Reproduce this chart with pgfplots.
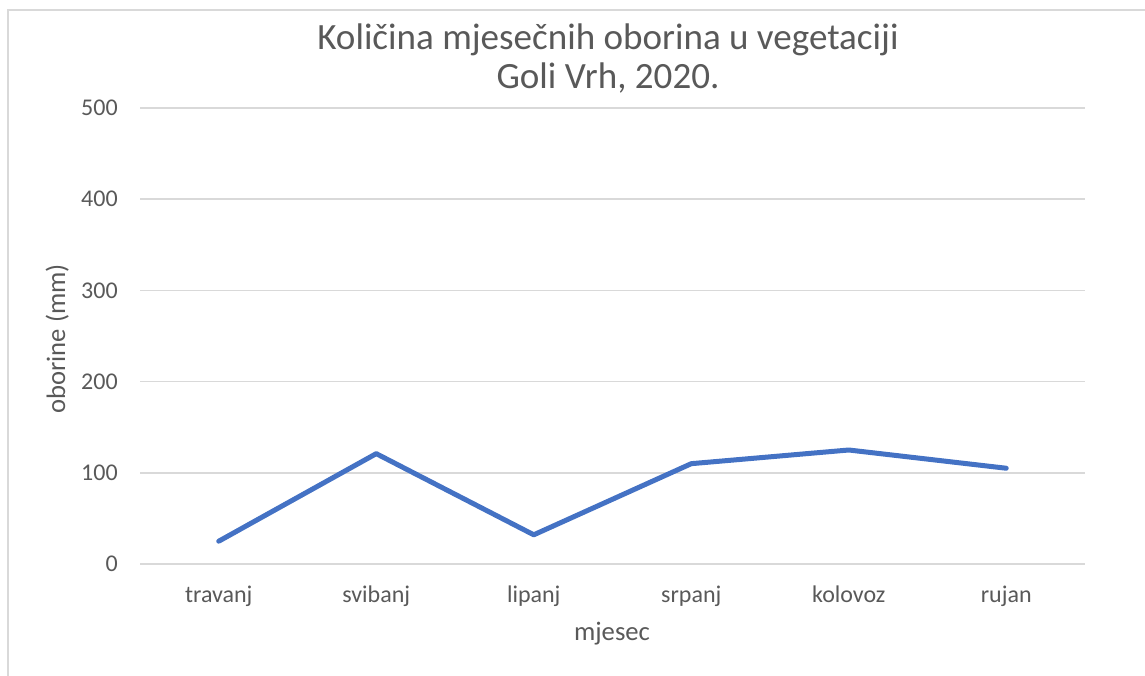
\documentclass[border=0pt]{standalone}
\usepackage{pgfplots}
\pgfplotsset{compat=1.18}
\usepackage{fontspec}
\setmainfont{Carlito}
\definecolor{txt}{HTML}{595959}
\definecolor{grd}{HTML}{D9D9D9}
\definecolor{ln}{HTML}{4472C4}
\begin{document}
\begin{tikzpicture}[x=0.75pt,y=0.75pt]
\useasboundingbox (0,0) rectangle (1145,675);
\draw[grd, line width=1.5pt] (8,-20) -- (8,665) -- (1170,665);
\begin{axis}[
  at={(105pt,83.25pt)}, anchor=south west,
  width=708.75pt, height=342pt, scale only axis,
  xmin=-0.5, xmax=5.5, ymin=0, ymax=500,
  ytick={0,100,200,300,400,500},
  xtick={0,1,2,3,4,5},
  xticklabels={travanj,svibanj,lipanj,srpanj,kolovoz,rujan},
  axis line style={draw=none},
  major tick length=0pt,
  ymajorgrids,
  grid style={grd, line width=1.1pt},
  /pgf/number format/assume math mode=true,
  tick label style={font=\fontsize{18}{21}\selectfont, text=txt},
  yticklabel style={anchor=east, inner sep=0pt, xshift=-16.5pt},
  xticklabel style={anchor=base, inner sep=0pt, yshift=-28.5pt},
  clip=false,
]
\addplot[ln, line width=3.75pt, line cap=round, line join=round] coordinates {
  (0,25) (1,121) (2,32) (3,110) (4,125) (5,105)
};
\end{axis}
\node[anchor=base, text=txt, font=\fontsize{27.8}{32}\selectfont, inner sep=0pt] at (608,625) {Količina mjesečnih oborina u vegetaciji};
\node[anchor=base, text=txt, font=\fontsize{27.8}{32}\selectfont, inner sep=0pt] at (608,586) {Goli Vrh, 2020.};
\node[anchor=base, text=txt, font=\fontsize{20}{23}\selectfont, inner sep=0pt] at (612,35) {mjesec};
\node[rotate=90, anchor=base, text=txt, font=\fontsize{20}{23}\selectfont, inner sep=0pt] at (65,336) {oborine (mm)};
\end{tikzpicture}
\end{document}
